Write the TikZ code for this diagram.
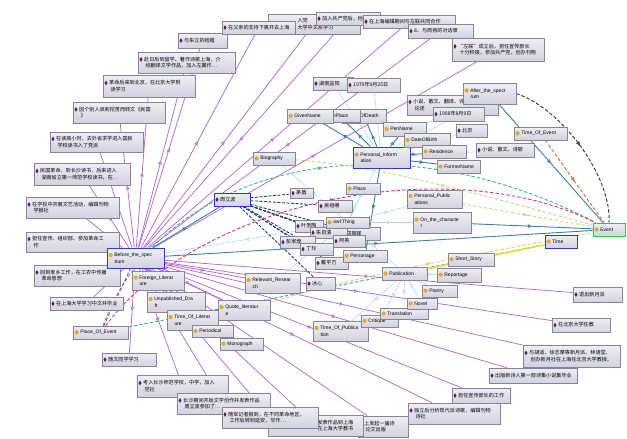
\documentclass[tikz,border=0pt]{standalone}
\usepackage{fontspec}
\setmainfont{Liberation Sans}
\newfontfamily\cjk{Noto Sans CJK SC}
\usetikzlibrary{arrows.meta,decorations.markings}

\definecolor{boxtop}{HTML}{EEEEF5}
\definecolor{boxbot}{HTML}{D3D3E0}
\definecolor{boxline}{HTML}{85859A}
\definecolor{selblue}{HTML}{2A3BD0}
\definecolor{selgreen}{HTML}{3CC04A}
\definecolor{iconyel}{HTML}{E2A92A}
\definecolor{iconpur}{HTML}{5B1E63}
\definecolor{linepurp}{HTML}{B56FD6}
\definecolor{lineteal}{HTML}{3F7FA8}
\definecolor{linenavy}{HTML}{223F6E}
\definecolor{linecyan}{HTML}{A3D5EC}
\definecolor{dgreen}{HTML}{3DB87A}
\definecolor{dred}{HTML}{E2336E}
\definecolor{dkhaki}{HTML}{D9D084}
\definecolor{lyellow}{HTML}{F0DA3A}
\definecolor{dteal}{HTML}{3AA8B4}
\definecolor{dorange}{HTML}{CF6F38}
\definecolor{dblack}{HTML}{303030}

\pgfdeclarelayer{bg}
\pgfsetlayers{bg,main}

\newcommand{\ci}{\tikz[baseline=-0.6ex]\fill[iconyel] (0pt,0pt) circle (2.1pt);}
\newcommand{\di}{\tikz[baseline=-0.6ex]\fill[iconpur] (0pt,2.4pt) -- (1.5pt,0pt) -- (0pt,-2.4pt) -- (-1.5pt,0pt) -- cycle;}
\newcommand{\nl}{\\\hspace*{6pt}}

\begin{document}
\begin{tikzpicture}[x=1pt,y=-1pt,
  cls/.style={draw=boxline,top color=boxtop,bottom color=boxbot,line width=0.5pt,shape=rectangle,
    inner xsep=1.5pt,inner ysep=0.6pt,align=left,font=\fontsize{5}{6.4}\selectfont},
  ind/.style={cls,font=\cjk\fontsize{5.1}{6.6}\selectfont},
  sz/.style 2 args={text width=#1pt-3pt,minimum height=#2pt},
  bluebox/.style={draw=selblue,line width=0.9pt},
  greenbox/.style={draw=selgreen,line width=0.9pt},
  midtip/.style={postaction={decorate,decoration={markings,
    mark=at position 0.5 with {\arrow{Triangle[fill=white,length=4pt,width=3.6pt]}}}}},
  purp/.style={draw=linepurp,line width=0.8pt,midtip},
  teal/.style={draw=lineteal,line width=0.9pt,midtip},
  thin/.style={draw=linecyan,line width=0.5pt,midtip},
  navy/.style={draw=linenavy,line width=0.9pt,dash pattern=on 3pt off 1.5pt},
  dsh/.style={line width=0.9pt,dash pattern=on 3.5pt off 2pt,midtip}]

  \useasboundingbox (0,0) rectangle (627,439);

  % outer individuals
  \draw (202.5,40.5) node [ind,sz={49}{15}] (o1) {\di\ 与朱立的结婚};
  \draw (186.5,62.5) node [ind,sz={97}{21}] (o2) {\di\ 赴日后到留学、著作诗歌上海，介\nl 绍翻译文学作品，加入左翼作…};
  \draw (149,86) node [ind,sz={92}{22}] (o3) {\di\ 革命后来到北京，在北京大学附\nl 读学习};
  \draw (119,112.5) node [ind,sz={92}{21}] (o4) {\di\ 因个别人讽刺挖苦而转文《民国\nl 》};
  \draw (96.5,142) node [ind,sz={93}{20}] (o5) {\di\ 在读高小时，去外省求学进入国民\nl 学校读书入了党派};
  \draw (82,174) node [ind,sz={96}{22}] (o6) {\di\ 民国革命，到长沙读书，后来进入\nl 湖南省立第一师范学校读书，在…};
  \draw (72.5,207.5) node [ind,sz={93}{21}] (o7) {\di\ 在学校中开展文艺活动，编辑刊物\nl 学报社};
  \draw (72.5,242) node [ind,sz={93}{20}] (o8) {\di\ 担任宣传、组织部、参加革命工\nl 作};
  \draw (77,275.5) node [ind,sz={86}{21}] (o9) {\di\ 回到家乡工作，在工农中传播\nl 革命思想};
  \draw (86.5,303.5) node [ind,sz={73}{13}] (o10) {\di\ 在上海大学学习中文并毕业};
  \draw (129,359.5) node [ind,sz={54}{13}] (o11) {\di\ 随文同学学习};
  \draw (182.5,386) node [ind,sz={91}{22}] (o12) {\di\ 考入长沙师范学校，中学，加入\nl 党社};
  \draw (223.5,403.5) node [ind,sz={93}{21}] (o13) {\di\ 长沙期间开始文学创作并发表作品\nl 周立波参加了…};
  \draw (383,426.5) node [ind,sz={50}{21}] (o16) {\di\ 上发起一届诗\nl 论文出版};
  \draw (315.5,425.5) node [ind,sz={95}{21}] (o15) {\hspace*{48pt}发表作品到上海\\\hspace*{48pt}在上海大学教书};
  \draw (270,417.5) node [ind,sz={96}{21}] (o14) {\di\ 随军记者报到，在不同革命地区，\nl 工作后转到延安，写作…};
  \draw (454,413.5) node [ind,sz={92}{21}] (o17) {\di\ 独立后分析现代派诗歌，编辑刊物\nl 诗社};
  \draw (481,395.5) node [ind,sz={58}{15}] (o18) {\di\ 担任宣传部长的工作};
  \draw (533,375.5) node [ind,sz={88}{15}] (o19) {\di\ 出版新诗人第一部诗集小说集毕业};
  \draw (571.5,356) node [ind,sz={97}{22}] (o20) {\di\ 与胡适、徐志摩等新月派、林语堂、\nl 创办新月社在上海任北京大学教授。};
  \draw (581,325) node [ind,sz={58}{14}] (o21) {\di\ 在北京大学任教};
  \draw (597.5,294.5) node [ind,sz={49}{15}] (o22) {\di\ 退出新月派};
  \draw (314,24) node [ind,sz={92}{20}] (o24) {\hspace*{28pt}入党\\\hspace*{28pt}大学中文系学习};
  \draw (258.5,27.5) node [ind,sz={73}{13}] (o23) {\di\ 在父亲的支持下离开去上海};
  \draw (348,18.5) node [ind,sz={64}{13}] (o25) {\di\ 加入共产党后，他开始};
  \draw (409,21.5) node [ind,sz={92}{13}] (o26) {\di\ 在上海编辑期间与左联共同合作};
  \draw (440.5,31) node [ind,sz={65}{14}] (o27) {\di\ 8、与周扬的对话录};
  \draw (498,49.5) node [ind,sz={92}{23}] (o28) {\di\ “左联”成立后，担任宣传部长\nl 十分积极，参加共产党，创办刊物};
  \draw (333,83.5) node [ind,sz={40}{13}] (o29) {\di\ 湖南益阳};
  \draw (373.5,85) node [ind,sz={53}{14}] (o30) {\di\ 1979年9月25日};
  \draw (452.5,105) node [ind,sz={91}{20}] (o32) {\di\ 小说、散文、翻译、评论\nl 论述};
  \draw (458.5,114) node [ind,sz={51}{14}] (o33) {\di\ 1908年8月9日};
  \draw (471.5,130.5) node [ind,sz={31}{13}] (o34) {\di\ 北京};
  \draw (505,150) node [ind,sz={58}{14}] (o35) {\di\ 小说、散文、诗歌};

  % classes
  \draw (135.5,258) node [cls,bluebox,sz={57}{20}] (before) {\ci\ Before\_the\_spec\nl trum};
  \draw (158,280.5) node [cls,sz={52}{19}] (forlit) {\ci\ Foreign\_Literat\nl ure};
  \draw (176,302) node [cls,sz={58}{20}] (unpub) {\ci\ Unpublished\_Dra\nl ft};
  \draw (192.5,320) node [cls,sz={51}{20}] (timelit) {\ci\ Time\_Of\_Literat\nl ure};
  \draw (212.5,331) node [cls,sz={41}{12}] (period) {\ci\ Periodical};
  \draw (241.5,344) node [cls,sz={43}{12}] (mono) {\ci\ Monograph};
  \draw (244,310) node [cls,sz={52}{20}] (quote) {\ci\ Quote\_literatur\nl e};
  \draw (272.5,283) node [cls,sz={55}{20}] (relres) {\ci\ Relevant\_Resear\nl ch};
  \draw (100.5,332.5) node [cls,sz={55}{13}] (placeev) {\ci\ Place\_Of\_Event};
  \draw (340.5,331) node [cls,sz={55}{20}] (timepub) {\ci\ Time\_Of\_Publica\nl tion};
  \draw (379.5,321) node [cls,sz={37}{12}] (critique) {\ci\ Critique};
  \draw (404,313.5) node [cls,sz={48}{11}] (transl) {\ci\ Translation};
  \draw (422,303.5) node [cls,sz={30}{11}] (novel) {\ci\ Novel};
  \draw (439.5,291) node [cls,sz={35}{12}] (poetry) {\ci\ Poetry};
  \draw (404.5,273.5) node [cls,sz={45}{13}] (publication) {\ci\ Publication};
  \draw (459,275) node [cls,sz={44}{14}] (reportage) {\ci\ Reportage};
  \draw (471,259.5) node [cls,sz={46}{13}] (shortst) {\ci\ Short\_Story};
  \draw (434.5,199) node [cls,sz={55}{18}] (perspub) {\ci\ Personal\_Public\nl ations};
  \draw (442,222.5) node [cls,sz={58}{21}] (onchar) {\ci\ On\_the\_characte\nl r};
  \draw (363,188.5) node [cls,sz={34}{11}] (place) {\ci\ Place};
  \draw (381.5,157.5) node [cls,bluebox,sz={57}{21}] (persinfo) {\ci\ Personal\_Inform\nl ation};
  \draw (364,116) node [cls,sz={44}{14}] (dateofdeath) {\ci\ DateOfDeath};
  \draw (339,115.5) node [cls,sz={42}{13}] (birthplace) {\ci\ BirthPlace};
  \draw (310,116) node [cls,sz={46}{14}] (givenname) {\ci\ GivenName};
  \draw (404.5,129) node [cls,sz={43}{14}] (penname) {\ci\ PenName};
  \draw (427,140) node [cls,sz={46}{14}] (dateofbirth) {\ci\ DateOfBirth};
  \draw (444,151.5) node [cls,sz={44}{13}] (residence) {\ci\ Residence};
  \draw (458.5,166.5) node [cls,sz={43}{13}] (formername) {\ci\ FormerName};
  \draw (489.5,93.5) node [cls,sz={53}{21}] (after) {\ci\ After\_the\_spect\nl rum};
  \draw (540.5,133.5) node [cls,sz={53}{13}] (timeev) {\ci\ Time\_Of\_Event};
  \draw (609,229.5) node [cls,greenbox,sz={32}{13}] (event) {\ci\ Event};
  \draw (561,241.5) node [cls,bluebox,sz={32}{13}] (time) {\ci\ Time};
  \draw (274,158.5) node [cls,sz={42}{13}] (biography) {\ci\ Biography};

  % persons round the hub
  \draw (232,199.5) node [ind,bluebox,sz={36}{13}] (hub) {\di\ 周立波};
  \draw (301.5,193) node [ind,sz={23}{10}] (i1) {\di\ 茅盾};
  \draw (335,206) node [ind,sz={34}{12}] (i2) {\di\ 吴组缃};
  \draw (309,226) node [ind,sz={28}{12}] (i3) {\di\ 叶圣陶};
  \draw (360,233.5) node [ind,sz={40}{13}] (i5) {\di\ 郑振铎};
  \draw (328.5,232.5) node [ind,sz={37}{11}] (i4) {\di\ 朱自清};
  \draw (349,241) node [ind,sz={32}{12}] (i6) {\di\ 阿英};
  \draw (297.5,242) node [ind,sz={35}{12}] (i7) {\di\ 彭家煌};
  \draw (316.5,249) node [ind,sz={33}{12}] (i8) {\di\ 丁玲};
  \draw (331.5,263) node [ind,sz={33}{12}] (i9) {\di\ 戴平万};
  \draw (320.5,283.5) node [ind,sz={29}{13}] (i10) {\di\ 冰心};
  \draw (347.5,222.5) node [cls,sz={43}{11}] (owlthing) {\ci\ owl:Thing};
  \draw (365,256) node [cls,sz={44}{12}] (personage) {\ci\ Personage};

  \begin{pgfonlayer}{bg}
  \draw[purp] (before) -- (o1);
  \draw[purp] (before) -- (o2);
  \draw[purp] (before) -- (o3);
  \draw[purp] (before) -- (o4);
  \draw[purp] (before) -- (o5);
  \draw[purp] (before) -- (o6);
  \draw[purp] (before) -- (o7);
  \draw[purp] (before) -- (o8);
  \draw[purp] (before) -- (o9);
  \draw[purp] (before) -- (o10);
  \draw[purp] (before) -- (o11);
  \draw[purp] (before) -- (o12);
  \draw[purp] (before) -- (o13);
  \draw[purp] (before) -- (o14);
  \draw[purp] (before) -- (o15);
  \draw[purp] (before) -- (o16);
  \draw[purp] (before) -- (o17);
  \draw[purp] (before) -- (o18);
  \draw[purp] (before) -- (o19);
  \draw[purp] (before) -- (o20);
  \draw[purp] (before) -- (o21);
  \draw[purp] (before) -- (o22);
  \draw[purp] (before) -- (o23);
  \draw[purp] (before) -- (o24);
  \draw[purp] (before) -- (o25);
  \draw[purp] (before) -- (o26);
  \draw[purp] (before) -- (o27);
  \draw[purp] (before) -- (o28);
  \draw[purp] (before) -- (forlit);
  \draw[purp] (before) -- (unpub);
  \draw[purp] (before) -- (timelit);
  \draw[purp] (before) -- (period);
  \draw[purp] (before) -- (mono);
  \draw[purp] (before) -- (quote);
  \draw[purp] (before) -- (relres);

  \draw[teal] (persinfo) -- (givenname);
  \draw[teal] (persinfo) -- (birthplace);
  \draw[teal] (persinfo) -- (dateofdeath);
  \draw[teal] (persinfo) -- (penname);
  \draw[teal] (persinfo) -- (dateofbirth);
  \draw[teal] (persinfo) -- (residence);
  \draw[teal] (persinfo) -- (formername);
  \draw[teal] (persinfo) -- (personage);
  \draw[teal] (before) -- (event);
  \draw[teal] (onchar) -- (event);
  \draw[teal] (after) -- (event);
  \draw[teal] (before) -- (hub);

  \draw[thin] (persinfo) -- (o29);
  \draw[thin] (persinfo) -- (o30);
  \draw[thin] (persinfo) -- (o32);
  \draw[thin] (persinfo) -- (o33);
  \draw[thin] (persinfo) -- (o34);
  \draw[thin] (persinfo) -- (o35);
  \draw[thin] (owlthing) -- (before);
  \draw[thin] (owlthing) -- (persinfo);
  \draw[thin] (owlthing) -- (place);
  \draw[thin] (owlthing) -- (perspub);
  \draw[thin] (owlthing) -- (onchar);
  \draw[thin] (owlthing) -- (biography);
  \draw[thin] (owlthing) -- (relres);
  \draw[thin] (owlthing) -- (publication);
  \draw[thin] (publication) -- (critique);
  \draw[thin] (publication) -- (transl);
  \draw[thin] (publication) -- (novel);
  \draw[thin] (publication) -- (poetry);
  \draw[thin] (publication) -- (reportage);
  \draw[thin] (publication) -- (shortst);
  \draw[thin] (publication) -- (timepub);

  \draw[navy] (hub) -- (i1);
  \draw[navy] (hub) -- (i2);
  \draw[navy] (hub) -- (i3);
  \draw[navy] (hub) -- (i4);
  \draw[navy] (hub) -- (i5);
  \draw[navy] (hub) -- (i6);
  \draw[navy] (hub) -- (i7);
  \draw[navy] (hub) -- (i8);
  \draw[navy] (hub) -- (i9);
  \draw[navy] (hub) -- (i10);

  \draw[dsh,dgreen] (placeev) .. controls (160,170) and (380,110) .. (event);
  \draw[dsh,dred] (placeev) .. controls (200,200) and (450,150) .. (event);
  \draw[dsh,dred] (placeev) -- (before);
  \draw[dsh,dteal] (placeev) -- (time);
  \draw[dsh,dkhaki] (biography) .. controls (380,165) and (500,200) .. (event);
  \draw[dsh,dkhaki] (quote) .. controls (380,270) and (500,250) .. (event);
  \draw[dsh,dkhaki] (perspub) -- (event);
  \draw[lyellow,line width=1.6pt] (publication) -- (time);
  \draw[dsh,dorange] (timeev) -- (event);
  \draw[dsh,dblack] (after.east) .. controls (565,110) and (612,180) .. (event.north);
  \end{pgfonlayer}

\end{tikzpicture}
\end{document}
